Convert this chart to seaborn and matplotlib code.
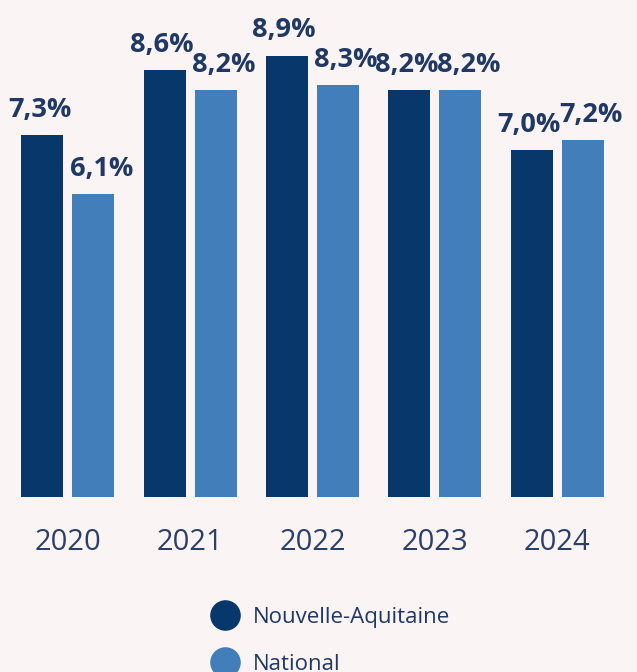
import pandas as pd
import matplotlib.pyplot as plt
import seaborn as sns
from matplotlib.lines import Line2D

# Data
years = ['2020', '2021', '2022', '2023', '2024']
series = ['Nouvelle-Aquitaine', 'National']
nouvelle_aquitaine = [7.3, 8.6, 8.9, 8.2, 7.0]
national = [6.1, 8.2, 8.3, 8.2, 7.2]

colors = ['#07376B', '#427EBA']
bg = '#FAF4F4'
text_col = '#1F3864'

df = pd.DataFrame({
    'year': years * 2,
    'series': [series[0]] * len(years) + [series[1]] * len(years),
    'value': nouvelle_aquitaine + national,
})

sns.set_theme(style='white')
plt.rcParams['font.family'] = ['Open Sans', 'DejaVu Sans']

fig = plt.figure(figsize=(6.37, 6.72), dpi=100, facecolor=bg)
ax = fig.add_axes([0, 175 / 672, 1, 497 / 672])
ax.set_facecolor(bg)

sns.barplot(data=df, x='year', y='value', hue='series', order=years,
            hue_order=series, palette=colors, saturation=1,
            width=0.834, gap=0.176, linewidth=0, legend=False, ax=ax)

ax.set_xlim(-0.556, 4.654)
ax.set_ylim(0, 10.02)
ax.set_xlabel('')
ax.set_ylabel('')
ax.set_yticks([])
ax.tick_params(axis='x', length=0, pad=22, labelsize=21, labelcolor='#2B3F6B')
sns.despine(ax=ax, left=True, bottom=True)

# Value labels above bars (pushed apart a little, in px)
shifts = [-3, 8]
for container, dx in zip(ax.containers, shifts):
    for bar in container:
        h = bar.get_height()
        ax.annotate(f'{h:.1f}'.replace('.', ',') + '%',
                    (bar.get_x() + bar.get_width() / 2, h),
                    xytext=(dx * 0.72, 13), textcoords='offset points',
                    ha='center', va='baseline', fontsize=19.5,
                    fontweight='bold', color=text_col)

handles = [Line2D([], [], linestyle='none', marker='o', markersize=21,
                  markerfacecolor=c, markeredgecolor=c) for c in colors]
fig.legend(handles, series, loc='upper left',
           bbox_to_anchor=(188 / 637, 1 - 587 / 672), frameon=False,
           fontsize=16, labelcolor=text_col, handletextpad=0.5,
           labelspacing=1.15, handlelength=1.5)

fig.savefig('out.png', dpi=100, facecolor=bg)
